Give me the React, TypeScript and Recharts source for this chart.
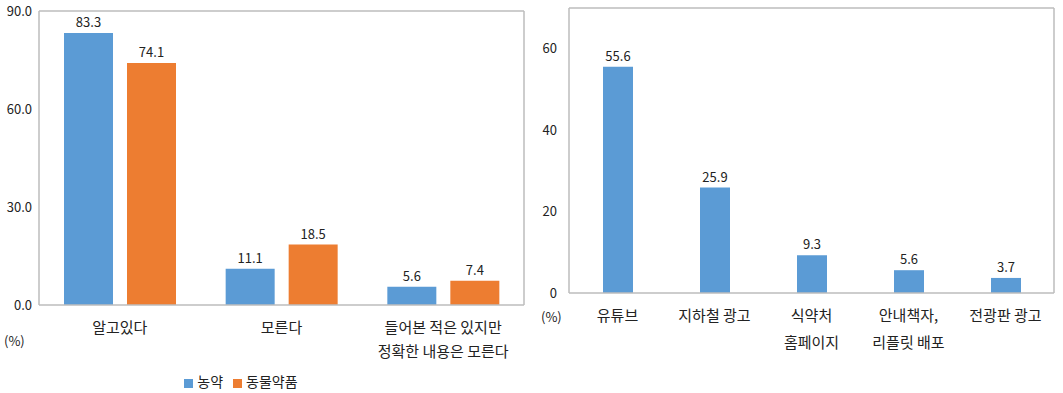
import React from "react";
import { Bar, BarChart, LabelList, Legend, XAxis, YAxis } from "recharts";

const awarenessCategories = ["알고있다", "모른다", "들어본 적은 있지만\n정확한 내용은 모른다"];
const pesticideValues = [83.3, 11.1, 5.6];
const animalDrugValues = [74.1, 18.5, 7.4];
const leftTicks = [0, 30, 60, 90];

const channelCategories = ["유튜브", "지하철 광고", "식약처\n홈페이지", "안내책자,\n리플릿 배포", "전광판 광고"];
const channelValues = [55.6, 25.9, 9.3, 5.6, 3.7];
const rightTicks = [0, 20, 40, 60];

const FONT = "'Noto Sans CJK KR', 'Noto Sans', sans-serif";
const BLUE = "#5b9bd5";
const ORANGE = "#ed7d31";
const FRAME = "#bdbdbd";

const leftData = awarenessCategories.map((name, i) => ({
  name,
  pesticide: pesticideValues[i],
  animal: animalDrugValues[i],
}));
const rightData = channelCategories.map((name, i) => ({ name, value: channelValues[i] }));

function MultiLineTick({ x, y, payload, dy, lineHeight }: any) {
  const lines = String(payload.value).split("\n");
  return (
    <text x={x} y={y} textAnchor="middle" fill="#222" fontSize={15} fontFamily={FONT}>
      {lines.map((line, i) => (
        <tspan key={i} x={x} dy={i === 0 ? dy : lineHeight}>
          {line}
        </tspan>
      ))}
    </text>
  );
}

const tickStyle = { fill: "#222", fontSize: 13, fontFamily: FONT };
const frameLine = { stroke: FRAME, strokeWidth: 1.5 };

export default function App() {
  return (
    <div style={{ position: "absolute", left: 0, top: 0, width: 1063, height: 393, background: "#fff", fontFamily: FONT }}>
      <div style={{ position: "absolute", left: 0, top: 0 }}>
        <BarChart
          width={535}
          height={393}
          data={leftData}
          margin={{ top: 10, right: 10, bottom: 0, left: 0 }}
          barSize={49}
          barGap={14}
        >
          <XAxis
            dataKey="name"
            axisLine={frameLine}
            tickLine={false}
            height={60}
            interval={0}
            tick={<MultiLineTick dy={20} lineHeight={24} />}
          />
          <XAxis xAxisId="top" dataKey="name" orientation="top" height={1} tick={false} tickLine={false} axisLine={frameLine} />
          <YAxis
            domain={[0, 90]}
            ticks={leftTicks}
            width={39}
            tickSize={0}
            tickMargin={7}
            tickLine={false}
            axisLine={frameLine}
            tick={tickStyle}
            tickFormatter={(v: number) => v.toFixed(1)}
          />
          <YAxis yAxisId="right" orientation="right" width={1} tick={false} tickLine={false} axisLine={frameLine} />
          <Legend
            verticalAlign="bottom"
            height={28}
            iconType="square"
            iconSize={9}
            wrapperStyle={{ fontSize: 14, fontFamily: FONT, left: 0, width: 492, bottom: -6 }}
            formatter={(v: string) => <span style={{ color: "#222" }}>{v}</span>}
          />
          <Bar dataKey="pesticide" name="농약" fill={BLUE} isAnimationActive={false}>
            <LabelList dataKey="pesticide" position="top" offset={6} fill="#222" fontSize={13} fontFamily={FONT} formatter={(v: any) => Number(v).toFixed(1)} />
          </Bar>
          <Bar dataKey="animal" name="동물약품" fill={ORANGE} isAnimationActive={false}>
            <LabelList dataKey="animal" position="top" offset={6} fill="#222" fontSize={13} fontFamily={FONT} formatter={(v: any) => Number(v).toFixed(1)} />
          </Bar>
        </BarChart>
      </div>
      <div style={{ position: "absolute", left: 4, top: 331, fontSize: 13, color: "#222" }}>(%)</div>

      <div style={{ position: "absolute", left: 530, top: 0 }}>
        <BarChart
          width={533}
          height={393}
          data={rightData}
          margin={{ top: 7, right: 8, bottom: 0, left: 0 }}
          barSize={30}
        >
          <XAxis
            dataKey="name"
            axisLine={frameLine}
            tickLine={false}
            height={100}
            interval={0}
            tick={<MultiLineTick dy={20} lineHeight={27} />}
          />
          <XAxis xAxisId="top" dataKey="name" orientation="top" height={1} tick={false} tickLine={false} axisLine={frameLine} />
          <YAxis
            domain={[0, 70]}
            ticks={rightTicks}
            width={39}
            tickSize={0}
            tickMargin={12}
            tickLine={false}
            axisLine={frameLine}
            tick={tickStyle}
          />
          <YAxis yAxisId="right" orientation="right" width={1} tick={false} tickLine={false} axisLine={frameLine} />
          <Bar dataKey="value" name="채널" fill={BLUE} isAnimationActive={false}>
            <LabelList dataKey="value" position="top" offset={6} fill="#222" fontSize={13} fontFamily={FONT} formatter={(v: any) => Number(v).toFixed(1)} />
          </Bar>
        </BarChart>
      </div>
      <div style={{ position: "absolute", left: 541, top: 307, fontSize: 13, color: "#222" }}>(%)</div>
    </div>
  );
}
